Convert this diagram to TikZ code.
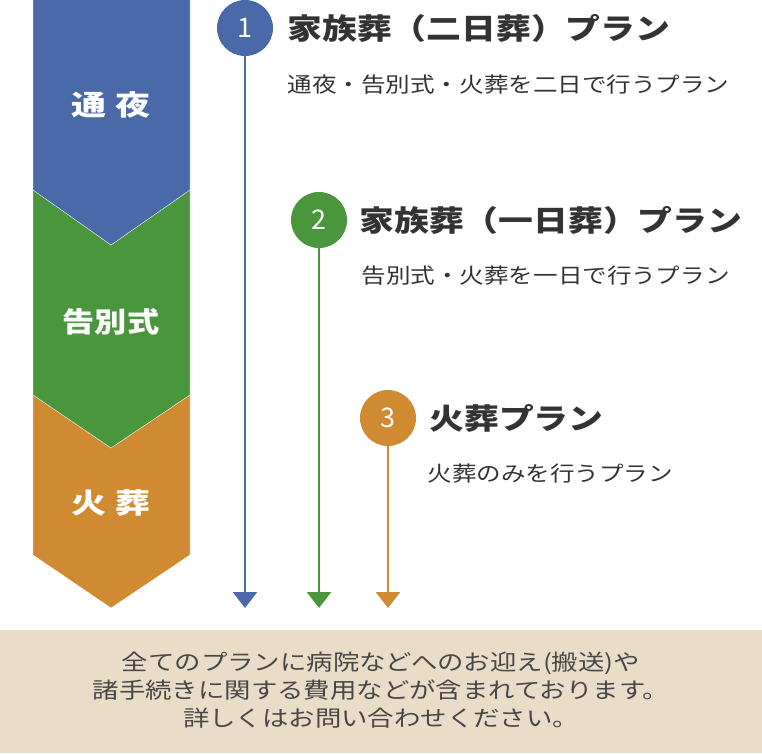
\documentclass[tikz,border=0pt]{standalone}
\usepackage{fontspec}
\usepackage{graphicx}
\setmainfont{Noto Sans CJK JP}
\usetikzlibrary{arrows.meta}
\definecolor{cb}{HTML}{4A69A8}
\definecolor{cg}{HTML}{4A963D}
\definecolor{co}{HTML}{D08A32}
\definecolor{tx}{HTML}{333333}
\definecolor{bg}{HTML}{EADDC7}
\newcommand{\wide}[2]{\scalebox{#1}[1]{#2}}
\begin{document}
\begin{tikzpicture}[x=1pt,y=-1pt,
  lab/.style={text=white,font=\bfseries\fontsize{28}{32}\selectfont},
  num/.style={circle,minimum size=56pt,inner sep=0,text=white,font=\fontsize{27}{30}\selectfont},
  ttl/.style={anchor=west,text=tx,font=\bfseries\fontsize{29}{32}\selectfont},
  sub/.style={anchor=west,text=tx,font=\fontsize{21}{24}\selectfont},
  arr/.style={line width=2.5pt,-{Triangle[width=24pt,length=16pt]}}]
\useasboundingbox (0,0) rectangle (762,753);
\fill[co,draw=white] (33,395)--(190,395)--(190,555)--(111,608)--(33,555)--cycle;
\fill[cg,draw=white] (33,190)--(190,190)--(190,395)--(111,448)--(33,395)--cycle;
\fill[cb,draw=white] (33,-2)--(190,-2)--(190,190)--(111,245)--(33,190)--cycle;
\node[lab] (l1) at (111,105) {\wide{1.25}{通 夜}};
\node[lab] (l2) at (111,322) {\wide{1.15}{告別式}};
\node[lab] (l3) at (111,503) {\wide{1.25}{火 葬}};
\coordinate (e1) at (245,608);
\coordinate (e2) at (319,608);
\coordinate (e3) at (388,608);
\node[num,fill=cb] (n1) at (245,28) {1};
\node[num,fill=cg] (n2) at (319,220) {2};
\node[num,fill=co] (n3) at (388,418) {3};
\draw[arr,cb] (n1) -- (e1);
\draw[arr,cg] (n2) -- (e2);
\draw[arr,co] (n3) -- (e3);
\node[ttl] (t1) at (284,28) {\wide{1.2}{家族葬（二日葬）プラン}};
\node[sub] (s1) at (284,85) {\wide{1.17}{通夜・告別式・火葬を二日で行うプラン}};
\node[ttl] (t2) at (356,220) {\wide{1.2}{家族葬（一日葬）プラン}};
\node[sub] (s2) at (358,276) {\wide{1.17}{告別式・火葬を一日で行うプラン}};
\node[ttl] (t3) at (426,418) {\wide{1.2}{火葬プラン}};
\node[sub] (s3) at (424,474) {\wide{1.17}{火葬のみを行うプラン}};
\fill[bg] (0,630) rectangle (762,753);
\node[text=tx!90,font=\fontsize{22}{30}\selectfont] (b) at (381,692)
 {\wide{1.2}{\begin{tabular}{@{}c@{}}全てのプランに病院などへのお迎え(搬送)や\\[-2pt]諸手続きに関する費用などが含まれております。\\[-2pt]詳しくはお問い合わせください。\end{tabular}}};
\end{tikzpicture}
\end{document}
